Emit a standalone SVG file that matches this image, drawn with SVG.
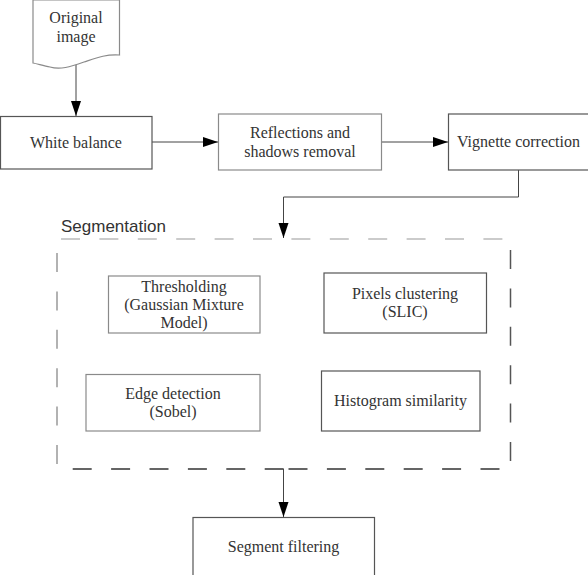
<svg xmlns="http://www.w3.org/2000/svg" width="588" height="575" viewBox="0 0 588 575">
  <style>
    .box { fill: #ffffff; stroke: #555555; stroke-width: 1.2; }
    .box.light { stroke: #8a8a8a; }
    .lbl { font-family: "Liberation Serif", "Times New Roman", serif; font-size: 16px; fill: #333333; text-anchor: middle; }
    .title { font-family: "Liberation Sans", Arial, sans-serif; font-size: 17px; fill: #333333; }
    .conn { fill: none; stroke: #444444; stroke-width: 1; }
    .edge { fill: none; stroke-width: 1.5; stroke-dasharray: 19 19.4; }
  </style>
  <defs>
    <marker id="arrow" markerUnits="userSpaceOnUse" markerWidth="16" markerHeight="12" refX="15" refY="5" orient="auto">
      <path d="M0,0 L15,5 L0,10 Z" fill="#000000"/>
    </marker>
  </defs>

  <rect width="588" height="575" fill="#ffffff"/>

  <!-- segmentation container: four dashed edges with their own shading -->
  <g id="segmentation">
    <text class="title" x="61" y="232">Segmentation</text>
    <path class="edge" stroke="#bbbbbb" d="M61,239 H504"/>
    <path class="edge" stroke="#999999" d="M57,253 V466"/>
    <path class="edge" stroke="#555555" d="M510.5,250 V462"/>
    <path class="edge" stroke="#333333" d="M72.7,469 H284"/>
    <path class="edge" stroke="#333333" stroke-dasharray="19 19.2" d="M288.5,469 H500"/>
  </g>

  <!-- connectors -->
  <g id="connectors">
    <path class="conn" d="M76,64 V116" marker-end="url(#arrow)"/>
    <path class="conn" d="M152,142 H218" marker-end="url(#arrow)"/>
    <path class="conn" d="M382,142 H448" marker-end="url(#arrow)"/>
    <path class="conn" d="M518.5,170 V197 H283.5 V238" marker-end="url(#arrow)"/>
    <path class="conn" d="M283.5,469 V517" marker-end="url(#arrow)"/>
  </g>

  <g id="original-image">
    <path class="box light" d="M33,0 H119.5 V55 C106,54 96,58 84,62 C70,67 60,70 50,67 C44,66 38,64 33,63 Z"/>
    <text class="lbl" x="76" y="23">Original</text>
    <text class="lbl" x="76" y="42">image</text>
  </g>

  <g id="white-balance">
    <rect class="box" x="0.5" y="116.5" width="151.5" height="52.5"/>
    <text class="lbl" x="76" y="148">White balance</text>
  </g>

  <g id="reflections">
    <rect class="box light" x="218.5" y="114" width="163" height="56"/>
    <text class="lbl" x="300" y="138">Reflections and</text>
    <text class="lbl" x="300" y="157">shadows removal</text>
  </g>

  <g id="vignette">
    <rect class="box" x="448.5" y="114" width="145" height="56"/>
    <text class="lbl" x="518.5" y="147">Vignette correction</text>
  </g>

  <g id="thresholding">
    <rect class="box light" x="108.5" y="276" width="151.5" height="57"/>
    <text class="lbl" x="184" y="292">Thresholding</text>
    <text class="lbl" x="184" y="310">(Gaussian Mixture</text>
    <text class="lbl" x="184" y="328">Model)</text>
  </g>

  <g id="pixels-clustering">
    <rect class="box" x="324" y="273" width="162.5" height="60"/>
    <text class="lbl" x="405" y="299">Pixels clustering</text>
    <text class="lbl" x="405" y="317">(SLIC)</text>
  </g>

  <g id="edge-detection">
    <rect class="box light" x="86" y="374.5" width="174" height="56.5"/>
    <text class="lbl" x="173" y="399">Edge detection</text>
    <text class="lbl" x="173" y="417">(Sobel)</text>
  </g>

  <g id="histogram-similarity">
    <rect class="box" x="321.5" y="371" width="158.5" height="60"/>
    <text class="lbl" x="400.5" y="406">Histogram similarity</text>
  </g>

  <g id="segment-filtering">
    <rect class="box" x="193" y="517.5" width="181.5" height="62"/>
    <text class="lbl" x="283.5" y="552">Segment filtering</text>
  </g>
</svg>
